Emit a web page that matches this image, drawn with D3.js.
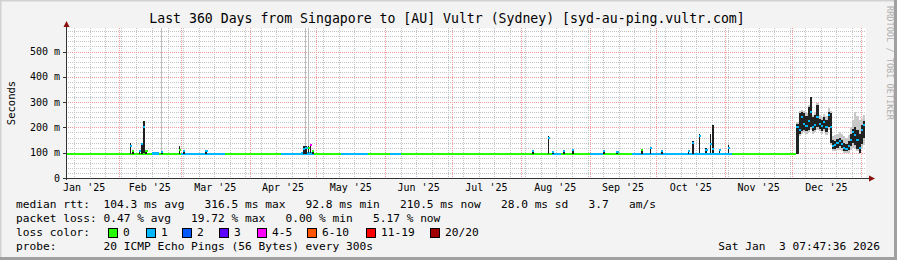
<!DOCTYPE html>
<html>
<head>
<meta charset="utf-8">
<script src="https://cdn.jsdelivr.net/npm/d3@7"></script>
<style>
  body { margin: 0; background: #f3f3f3; }
  svg { display: block; }
  text { font-family: "DejaVu Sans Mono", monospace; white-space: pre; }
</style>
</head>
<body>
<div id="graph"></div>
<script>
// --- data ---
const titleText = "Last 360 Days from Singapore to [AU] Vultr (Sydney) [syd-au-ping.vultr.com]";
const timeStart = "2025-01-08T07:47:36Z";
const timeEnd = "2026-01-03T07:47:36Z";
const yTicks = [0, 100, 200, 300, 400, 500];
const yLabels = ["0", "100 m", "200 m", "300 m", "400 m", "500 m"];
const monthLabels = ["Jan '25", "Feb '25", "Mar '25", "Apr '25", "May '25", "Jun '25",
                     "Jul '25", "Aug '25", "Sep '25", "Oct '25", "Nov '25", "Dec '25"];
const lossLabels = ["0", "1", "2", "3", "4-5", "6-10", "11-19", "20/20"];
const lossColors = ["#26ff00", "#00b8ff", "#0059ff", "#5e00ff", "#ff00ff", "#ff5500", "#ff0000", "#a10000"];

// flat runs of the median: [from, to, ms, loss class]
const baseRuns = [
  ["2025-01-08", "2025-02-05", 95, 0],
  ["2025-02-05", "2025-02-16", 96, 0],
  ["2025-02-16", "2025-02-19", 97, 1],
  ["2025-02-19", "2025-03-01", 95, 0],
  ["2025-03-01", "2025-03-21", 96, 1],
  ["2025-03-21", "2025-04-15", 95, 0],
  ["2025-04-15", "2025-04-24", 96, 1],
  ["2025-04-24", "2025-04-30", 97, 1],
  ["2025-04-30", "2025-05-12", 95, 0],
  ["2025-05-12", "2025-05-24", 96, 1],
  ["2025-05-24", "2025-06-03", 95, 0],
  ["2025-06-03", "2025-06-08", 95, 1],
  ["2025-06-08", "2025-08-15", 95, 0],
  ["2025-08-15", "2025-08-19", 96, 1],
  ["2025-08-19", "2025-09-01", 95, 0],
  ["2025-09-01", "2025-09-07", 96, 1],
  ["2025-09-07", "2025-09-20", 95, 0],
  ["2025-09-20", "2025-11-04", 96, 1],
  ["2025-11-04", "2025-12-03", 95, 0]
];

// single days with smoke: [day, median, smoke low, smoke high, loss class]
const spikes = [
  ["2025-02-06", 128, 95, 138, 1],
  ["2025-02-07", 108, 95, 112, 0],
  ["2025-02-10", 105, 95, 112, 1],
  ["2025-02-11", 135, 95, 140, 1],
  ["2025-02-12", 200, 100, 225, 1],
  ["2025-02-13", 105, 95, 110, 0],
  ["2025-02-20", 103, 96, 106, 1],
  ["2025-02-28", 112, 95, 125, 0],
  ["2025-03-02", 105, 95, 108, 1],
  ["2025-03-12", 108, 95, 112, 1],
  ["2025-04-25", 115, 95, 125, 1],
  ["2025-04-26", 120, 95, 125, 1],
  ["2025-04-27", 118, 100, 128, 0],
  ["2025-04-28", 132, 100, 135, 4],
  ["2025-04-29", 105, 95, 112, 0],
  ["2025-08-06", 108, 95, 112, 1],
  ["2025-08-13", 160, 95, 166, 1],
  ["2025-08-15", 103, 96, 106, 1],
  ["2025-08-20", 106, 95, 110, 1],
  ["2025-08-24", 110, 95, 112, 1],
  ["2025-09-07", 105, 95, 108, 1],
  ["2025-09-13", 103, 95, 106, 1],
  ["2025-09-24", 110, 95, 112, 0],
  ["2025-09-28", 118, 95, 120, 1],
  ["2025-10-03", 108, 95, 110, 1],
  ["2025-10-15", 107, 95, 110, 1],
  ["2025-10-17", 140, 95, 148, 1],
  ["2025-10-20", 165, 100, 172, 1],
  ["2025-10-23", 112, 100, 118, 1],
  ["2025-10-25", 135, 100, 175, 1],
  ["2025-10-26", 115, 100, 210, 1],
  ["2025-10-29", 110, 98, 115, 1],
  ["2025-11-02", 118, 100, 130, 1]
];

// pings far off the chart: [day, from ms, to ms]
const outliers = [
  ["2025-02-20", 100, 600],
  ["2025-04-26", 120, 600],
  ["2025-04-27", 125, 600]
];

// the December jump: [day, median, dark low, dark high, light low, light high, loss class]
const decDays = [
  ["2025-12-03", 200, 95, 215, 95, 220, 1],
  ["2025-12-04", 190, 175, 255, 165, 265, 1],
  ["2025-12-05", 240, 185, 260, 175, 270, 1],
  ["2025-12-06", 215, 190, 255, 180, 265, 1],
  ["2025-12-07", 205, 185, 245, 175, 255, 1],
  ["2025-12-08", 225, 190, 280, 180, 290, 1],
  ["2025-12-09", 260, 200, 322, 190, 322, 1],
  ["2025-12-10", 200, 185, 240, 175, 250, 1],
  ["2025-12-11", 210, 190, 250, 180, 262, 1],
  ["2025-12-12", 240, 200, 290, 190, 298, 1],
  ["2025-12-13", 215, 195, 235, 185, 248, 1],
  ["2025-12-14", 205, 185, 230, 175, 242, 1],
  ["2025-12-15", 220, 195, 240, 185, 252, 1],
  ["2025-12-16", 200, 180, 230, 170, 245, 1],
  ["2025-12-17", 250, 200, 262, 190, 275, 1],
  ["2025-12-18", 200, 140, 255, 130, 265, 1],
  ["2025-12-19", 125, 115, 150, 105, 165, 1],
  ["2025-12-20", 130, 115, 145, 105, 170, 1],
  ["2025-12-21", 140, 120, 155, 110, 175, 1],
  ["2025-12-22", 145, 125, 160, 112, 180, 1],
  ["2025-12-23", 135, 120, 150, 108, 172, 1],
  ["2025-12-24", 120, 105, 140, 100, 165, 1],
  ["2025-12-25", 115, 105, 135, 98, 160, 1],
  ["2025-12-26", 125, 110, 145, 100, 170, 1],
  ["2025-12-27", 150, 125, 175, 110, 200, 1],
  ["2025-12-28", 180, 140, 195, 120, 230, 1],
  ["2025-12-29", 170, 130, 200, 115, 260, 1],
  ["2025-12-30", 150, 115, 190, 105, 245, 1],
  ["2025-12-31", 120, 100, 175, 95, 230, 1],
  ["2026-01-01", 190, 135, 210, 115, 235, 1],
  ["2026-01-02", 210, 160, 225, 130, 250, 1]
];

const legendRows = [
  "median rtt:  104.3 ms avg   316.5 ms max   92.8 ms min   210.5 ms now   28.0 ms sd   3.7   am/s",
  "packet loss: 0.47 % avg   19.72 % max   0.00 % min   5.17 % now",
  "loss color:",
  "probe:       20 ICMP Echo Pings (56 Bytes) every 300s"
];
const stampText = "Sat Jan  3 07:47:36 2026";
const sideText = "RRDTOOL / TOBI OETIKER";

// --- layout ---
const W = 897, H = 260;
const pl = 66, pr = 866, pt = 28, pb = 178;

const svg = d3.select("#graph").append("svg")
  .attr("width", W).attr("height", H);

// frame
svg.append("rect").attr("width", W).attr("height", H).attr("fill", "#f3f3f3");
svg.append("path").attr("d", `M0,${H} V0 H${W}`).attr("fill", "none")
  .attr("stroke", "#d2d2d2").attr("stroke-width", 3);
svg.append("path").attr("d", `M0,${H - 1.5} H${W - 1.5} V0`).attr("fill", "none")
  .attr("stroke", "#a0a0a0").attr("stroke-width", 3);

const parseDay = d3.utcParse("%Y-%m-%d");
const t0 = new Date(timeStart), t1 = new Date(timeEnd);

const x = d3.scaleUtc().domain([t0, t1]).range([pl, pr]);
const y = d3.scaleLinear().domain([0, 593]).range([pb, pt]);

// canvas
svg.append("rect").attr("x", pl).attr("y", pt).attr("width", pr - pl).attr("height", pb - pt)
  .attr("fill", "#ffffff");

const grid = svg.append("g").attr("shape-rendering", "crispEdges");

// minor grid
d3.range(20, 593, 20).filter(v => v % 100 !== 0).forEach(v => {
  grid.append("line").attr("x1", pl).attr("x2", pr)
    .attr("y1", Math.round(y(v)) + 0.5).attr("y2", Math.round(y(v)) + 0.5)
    .attr("stroke", "#c4c4c4").attr("stroke-dasharray", "1,1");
});
d3.utcSunday.range(t0, t1).forEach(d => {
  grid.append("line").attr("y1", pt).attr("y2", pb)
    .attr("x1", Math.round(x(d)) + 0.5).attr("x2", Math.round(x(d)) + 0.5)
    .attr("stroke", "#c4c4c4").attr("stroke-dasharray", "1,1");
});
// major grid
yTicks.slice(1).forEach(v => {
  grid.append("line").attr("x1", pl).attr("x2", pr)
    .attr("y1", Math.round(y(v)) + 0.5).attr("y2", Math.round(y(v)) + 0.5)
    .attr("stroke", "#f09a9a").attr("stroke-dasharray", "1,1");
});
const monthStarts = d3.utcMonth.range(d3.utcMonth.floor(t0), d3.utcMonth.offset(d3.utcMonth.floor(t1), 1));
monthStarts.filter(d => d > t0 && d < t1).forEach(d => {
  grid.append("line").attr("y1", pt).attr("y2", pb)
    .attr("x1", Math.round(x(d)) + 0.5).attr("x2", Math.round(x(d)) + 0.5)
    .attr("stroke", "#f09a9a").attr("stroke-dasharray", "1,1");
});

// data
const data = svg.append("g").attr("shape-rendering", "crispEdges");
const dayW = d => x(d3.utcDay.offset(d, 1)) - x(d);

outliers.forEach(o => {
  const d = parseDay(o[0]);
  data.append("rect").attr("x", x(d)).attr("width", 1)
    .attr("y", y(Math.min(o[2], 593))).attr("height", y(o[1]) - y(Math.min(o[2], 593)))
    .attr("fill", "#bdbdbd");
});

baseRuns.forEach(r => {
  const a = r[0] === "2025-01-08" ? t0 : parseDay(r[0]);
  const b = parseDay(r[1]);
  data.append("rect").attr("x", x(a)).attr("width", x(b) - x(a))
    .attr("y", y(r[2]) - 1.2).attr("height", 2.4)
    .attr("fill", lossColors[r[3]]);
});

decDays.forEach(r => {
  const d = parseDay(r[0]);
  data.append("rect").attr("x", x(d)).attr("width", dayW(d))
    .attr("y", y(r[5])).attr("height", y(r[4]) - y(r[5]))
    .attr("fill", "#c8c8c8");
});
decDays.forEach(r => {
  const d = parseDay(r[0]);
  data.append("rect").attr("x", x(d)).attr("width", dayW(d))
    .attr("y", y(r[3])).attr("height", y(r[2]) - y(r[3]))
    .attr("fill", "#222222");
});
decDays.forEach(r => {
  const d = parseDay(r[0]);
  data.append("rect").attr("x", x(d)).attr("width", dayW(d))
    .attr("y", y(r[1]) - 1).attr("height", 2)
    .attr("fill", lossColors[r[6]]);
});

spikes.forEach(s => {
  const d = parseDay(s[0]);
  data.append("rect").attr("x", x(d)).attr("width", Math.max(1.5, dayW(d) - 0.5))
    .attr("y", y(s[3])).attr("height", y(s[2]) - y(s[3]))
    .attr("fill", "#1e1e1e");
  data.append("rect").attr("x", x(d)).attr("width", dayW(d))
    .attr("y", y(s[1]) - 1).attr("height", 2)
    .attr("fill", lossColors[s[4]]);
});

// axes
const axis = svg.append("g");
axis.append("line").attr("x1", pl + 0.5).attr("x2", pl + 0.5).attr("y1", pb + 2).attr("y2", pt - 4)
  .attr("stroke", "#333");
axis.append("line").attr("x1", pl - 2).attr("x2", pr + 4).attr("y1", pb + 0.5).attr("y2", pb + 0.5)
  .attr("stroke", "#333");
axis.append("path").attr("d", `M${pl - 2.5},${pt - 1} L${pl + 3.5},${pt - 1} L${pl + 0.5},${pt - 7} Z`)
  .attr("fill", "#8b1010");
axis.append("path").attr("d", `M${pr + 3},${pb - 2.5} L${pr + 3},${pb + 3.5} L${pr + 9},${pb + 0.5} Z`)
  .attr("fill", "#8b1010");

yTicks.forEach((v, i) => {
  axis.append("line").attr("x1", pl - 3).attr("x2", pl)
    .attr("y1", Math.round(y(v)) + 0.5).attr("y2", Math.round(y(v)) + 0.5)
    .attr("stroke", "#333").attr("shape-rendering", "crispEdges");
  axis.append("text").attr("x", 60).attr("y", y(v) + 3.5)
    .attr("text-anchor", "end").attr("font-size", "10px").attr("fill", "#000")
    .text(yLabels[i]);
});

monthStarts.forEach((d, i) => {
  const mid = (x(d) + x(d3.utcMonth.offset(d, 1))) / 2;
  if (i < monthLabels.length) {
    axis.append("text").attr("x", mid).attr("y", 191)
      .attr("text-anchor", "middle").attr("font-size", "10px").attr("fill", "#000")
      .text(monthLabels[i]);
  }
});

// title and side labels
svg.append("text").attr("x", 447).attr("y", 23).attr("text-anchor", "middle")
  .attr("font-size", "13.2px").attr("fill", "#000").text(titleText);
svg.append("text").attr("transform", `translate(15,103) rotate(-90)`)
  .attr("text-anchor", "middle").attr("font-size", "10.5px").attr("fill", "#000").text("Seconds");
svg.append("text").attr("transform", `translate(887,6) rotate(90)`)
  .attr("font-size", "8.6px").attr("fill", "#b0b0b0").text(sideText);

// legend
const rowY = [208, 222, 236, 250];
legendRows.forEach((t, i) => {
  svg.append("text").attr("x", 16).attr("y", rowY[i]).attr("font-size", "11.2px")
    .attr("fill", "#000").text(t);
});
const boxX = [108, 146, 182, 219, 257, 307, 366, 430];
lossLabels.forEach((l, i) => {
  svg.append("rect").attr("x", boxX[i] + 0.5).attr("y", 228.5).attr("width", 9).attr("height", 9)
    .attr("fill", lossColors[i]).attr("stroke", "#000").attr("shape-rendering", "crispEdges");
  svg.append("text").attr("x", boxX[i] + 15).attr("y", 236).attr("font-size", "11.2px")
    .attr("fill", "#000").text(l);
});
svg.append("text").attr("x", 880).attr("y", 250).attr("text-anchor", "end")
  .attr("font-size", "11.2px").attr("fill", "#000").text(stampText);
</script>
</body>
</html>
